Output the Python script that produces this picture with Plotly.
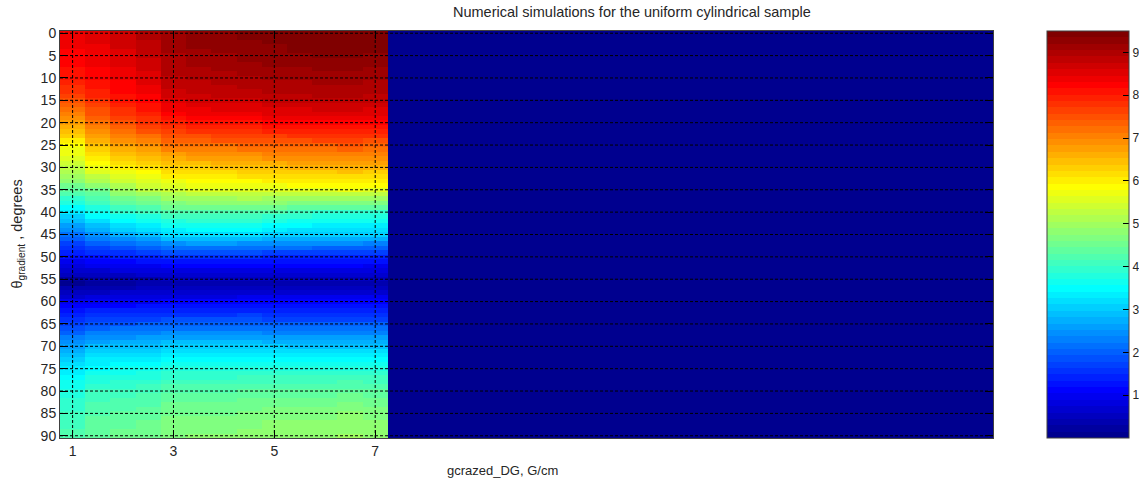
import plotly.graph_objects as go

# Gradient strengths along x (G/cm); columns are 0.5 G/cm wide
gradient_values = [1.0, 1.5, 2.0, 2.5, 3.0, 3.5, 4.0, 4.5, 5.0, 5.5, 6.0, 6.5, 7.0,
                   7.5, 8.0, 8.5, 9.0, 9.5, 10.0, 10.5, 11.0, 11.5, 12.0, 12.5, 13.0,
                   13.5, 14.0, 14.5, 15.0, 15.5, 16.0, 16.5, 17.0, 17.5, 18.0, 18.5, 19.0]

# Gradient angle rows, one per degree
theta_deg = list(range(0, 91))

x_ticks = [1, 3, 5, 7]
y_ticks = [0, 5, 10, 15, 20, 25, 30, 35, 40, 45, 50, 55, 60, 65, 70, 75, 80, 85, 90]
cbar_ticks = [1, 2, 3, 4, 5, 6, 7, 8, 9]

# Simulated signal for each simulated gradient (theta = 0..90 deg)
g_1_0 = [8.35, 8.34, 8.33, 8.32, 8.31, 8.3, 8.25, 8.2, 8.15, 8.1,
         8.05, 7.95, 7.85, 7.75, 7.65, 7.55, 7.4, 7.25, 7.1, 6.95,
         6.8, 6.62, 6.44, 6.26, 6.08, 5.9, 5.78, 5.66, 5.54, 5.42,
         5.3, 5.12, 4.94, 4.76, 4.58, 4.4, 4.18, 3.96, 3.74, 3.52,
         3.3, 3.07, 2.84, 2.61, 2.38, 2.15, 1.96, 1.77, 1.58, 1.39,
         1.2, 1.02, 0.84, 0.66, 0.48, 0.25, 0.12, 0.3, 0.5, 0.7,
         0.9, 1.07, 1.24, 1.41, 1.58, 1.75, 1.91, 2.07, 2.23, 2.39,
         2.55, 2.7, 2.85, 3.0, 3.15, 3.3, 3.4, 3.5, 3.6, 3.7,
         3.8, 3.85, 3.9, 3.95, 4.0, 4.05, 4.08, 4.11, 4.14, 4.17, 4.2]
g_1_5 = [8.55, 8.52, 8.49, 8.46, 8.43, 8.4, 8.36, 8.32, 8.28, 8.24,
         8.2, 8.12, 8.04, 7.96, 7.88, 7.8, 7.68, 7.56, 7.44, 7.32,
         7.2, 7.05, 6.9, 6.75, 6.6, 6.45, 6.31, 6.17, 6.03, 5.89,
         5.75, 5.52, 5.29, 5.06, 4.83, 4.6, 4.41, 4.22, 4.03, 3.84,
         3.65, 3.42, 3.19, 2.96, 2.73, 2.5, 2.26, 2.02, 1.78, 1.54,
         1.3, 1.11, 0.92, 0.73, 0.54, 0.35, 0.22, 0.38, 0.58, 0.8,
         1.0, 1.17, 1.34, 1.51, 1.68, 1.85, 2.05, 2.25, 2.45, 2.65,
         2.85, 2.99, 3.13, 3.27, 3.41, 3.55, 3.65, 3.75, 3.85, 3.95,
         4.05, 4.1, 4.15, 4.2, 4.25, 4.3, 4.33, 4.36, 4.39, 4.42, 4.45]
g_2_0 = [8.75, 8.71, 8.67, 8.63, 8.59, 8.55, 8.51, 8.47, 8.43, 8.39,
         8.35, 8.29, 8.23, 8.17, 8.11, 8.05, 7.94, 7.83, 7.72, 7.61,
         7.5, 7.35, 7.2, 7.05, 6.9, 6.75, 6.59, 6.43, 6.27, 6.11,
         5.95, 5.76, 5.57, 5.38, 5.19, 5.0, 4.78, 4.56, 4.34, 4.12,
         3.9, 3.67, 3.44, 3.21, 2.98, 2.75, 2.47, 2.19, 1.91, 1.63,
         1.35, 1.15, 0.95, 0.75, 0.55, 0.35, 0.25, 0.4, 0.6, 0.8,
         1.0, 1.18, 1.36, 1.54, 1.72, 1.9, 2.1, 2.3, 2.5, 2.7,
         2.9, 3.04, 3.18, 3.32, 3.46, 3.6, 3.7, 3.8, 3.9, 4.0,
         4.1, 4.15, 4.2, 4.25, 4.3, 4.35, 4.38, 4.41, 4.44, 4.47, 4.5]
g_2_5 = [8.95, 8.92, 8.89, 8.86, 8.83, 8.8, 8.75, 8.7, 8.65, 8.6,
         8.55, 8.49, 8.43, 8.37, 8.31, 8.25, 8.15, 8.05, 7.95, 7.85,
         7.75, 7.59, 7.43, 7.27, 7.11, 6.95, 6.78, 6.61, 6.44, 6.27,
         6.1, 5.92, 5.74, 5.56, 5.38, 5.2, 4.97, 4.74, 4.51, 4.28,
         4.05, 3.83, 3.61, 3.39, 3.17, 2.95, 2.64, 2.33, 2.02, 1.71,
         1.4, 1.2, 1.0, 0.8, 0.6, 0.4, 0.3, 0.45, 0.62, 0.8,
         1.0, 1.19, 1.38, 1.57, 1.76, 1.95, 2.15, 2.35, 2.55, 2.75,
         2.95, 3.09, 3.23, 3.37, 3.51, 3.65, 3.75, 3.85, 3.95, 4.05,
         4.15, 4.2, 4.25, 4.3, 4.35, 4.4, 4.43, 4.46, 4.49, 4.52, 4.55]
g_3_0 = [9.2, 9.17, 9.14, 9.11, 9.08, 9.05, 9.02, 8.99, 8.96, 8.93,
         8.9, 8.83, 8.76, 8.69, 8.62, 8.55, 8.44, 8.33, 8.22, 8.11,
         8.0, 7.83, 7.66, 7.49, 7.32, 7.15, 6.98, 6.81, 6.64, 6.47,
         6.3, 6.12, 5.94, 5.76, 5.58, 5.4, 5.17, 4.94, 4.71, 4.48,
         4.25, 4.04, 3.83, 3.62, 3.41, 3.2, 2.86, 2.52, 2.18, 1.84,
         1.5, 1.29, 1.08, 0.87, 0.66, 0.45, 0.38, 0.5, 0.68, 0.86,
         1.05, 1.24, 1.43, 1.62, 1.81, 2.0, 2.21, 2.42, 2.63, 2.84,
         3.05, 3.2, 3.35, 3.5, 3.65, 3.8, 3.9, 4.0, 4.1, 4.2,
         4.3, 4.36, 4.42, 4.48, 4.54, 4.6, 4.62, 4.64, 4.66, 4.68, 4.7]
g_3_5 = [9.3, 9.27, 9.24, 9.21, 9.18, 9.15, 9.11, 9.07, 9.03, 8.99,
         8.95, 8.89, 8.83, 8.77, 8.71, 8.65, 8.54, 8.43, 8.32, 8.21,
         8.1, 7.92, 7.74, 7.56, 7.38, 7.2, 7.03, 6.86, 6.69, 6.52,
         6.35, 6.18, 6.01, 5.84, 5.67, 5.5, 5.26, 5.02, 4.78, 4.54,
         4.3, 4.09, 3.88, 3.67, 3.46, 3.25, 2.9, 2.55, 2.2, 1.85,
         1.5, 1.29, 1.08, 0.87, 0.66, 0.45, 0.4, 0.52, 0.7, 0.88,
         1.05, 1.24, 1.43, 1.62, 1.81, 2.0, 2.21, 2.42, 2.63, 2.84,
         3.05, 3.2, 3.35, 3.5, 3.65, 3.8, 3.9, 4.0, 4.1, 4.2,
         4.3, 4.36, 4.42, 4.48, 4.54, 4.6, 4.63, 4.66, 4.69, 4.72, 4.75]
g_4_0 = [9.35, 9.32, 9.29, 9.26, 9.23, 9.2, 9.16, 9.12, 9.08, 9.04,
         9.0, 8.94, 8.88, 8.82, 8.76, 8.7, 8.59, 8.48, 8.37, 8.26,
         8.15, 7.97, 7.79, 7.61, 7.43, 7.25, 7.08, 6.91, 6.74, 6.57,
         6.4, 6.22, 6.04, 5.86, 5.68, 5.5, 5.26, 5.02, 4.78, 4.54,
         4.3, 4.09, 3.88, 3.67, 3.46, 3.25, 2.9, 2.55, 2.2, 1.85,
         1.5, 1.29, 1.08, 0.87, 0.66, 0.45, 0.4, 0.52, 0.7, 0.88,
         1.05, 1.24, 1.43, 1.62, 1.81, 2.0, 2.21, 2.42, 2.63, 2.84,
         3.05, 3.2, 3.35, 3.5, 3.65, 3.8, 3.9, 4.0, 4.1, 4.2,
         4.3, 4.36, 4.42, 4.48, 4.54, 4.6, 4.63, 4.66, 4.69, 4.72, 4.75]
g_4_5 = [9.4, 9.37, 9.34, 9.31, 9.28, 9.25, 9.21, 9.17, 9.13, 9.09,
         9.05, 8.98, 8.91, 8.84, 8.77, 8.7, 8.59, 8.48, 8.37, 8.26,
         8.15, 7.98, 7.81, 7.64, 7.47, 7.3, 7.13, 6.96, 6.79, 6.62,
         6.45, 6.27, 6.09, 5.91, 5.73, 5.55, 5.3, 5.05, 4.8, 4.55,
         4.3, 4.08, 3.86, 3.64, 3.42, 3.2, 2.86, 2.52, 2.18, 1.84,
         1.5, 1.29, 1.08, 0.87, 0.66, 0.45, 0.42, 0.55, 0.73, 0.92,
         1.1, 1.28, 1.46, 1.64, 1.82, 2.0, 2.21, 2.42, 2.63, 2.84,
         3.05, 3.2, 3.35, 3.5, 3.65, 3.8, 3.91, 4.02, 4.13, 4.24,
         4.35, 4.41, 4.47, 4.53, 4.59, 4.65, 4.68, 4.71, 4.74, 4.77, 4.8]
g_5_0 = [9.4, 9.38, 9.36, 9.34, 9.32, 9.3, 9.26, 9.22, 9.18, 9.14,
         9.1, 9.04, 8.98, 8.92, 8.86, 8.8, 8.69, 8.58, 8.47, 8.36,
         8.25, 8.07, 7.89, 7.71, 7.53, 7.35, 7.18, 7.01, 6.84, 6.67,
         6.5, 6.32, 6.14, 5.96, 5.78, 5.6, 5.32, 5.04, 4.76, 4.48,
         4.2, 3.98, 3.76, 3.54, 3.32, 3.1, 2.77, 2.44, 2.11, 1.78,
         1.45, 1.25, 1.05, 0.85, 0.65, 0.45, 0.42, 0.55, 0.73, 0.92,
         1.1, 1.27, 1.44, 1.61, 1.78, 1.95, 2.16, 2.37, 2.58, 2.79,
         3.0, 3.16, 3.32, 3.48, 3.64, 3.8, 3.91, 4.02, 4.13, 4.24,
         4.35, 4.42, 4.49, 4.56, 4.63, 4.7, 4.73, 4.76, 4.79, 4.82, 4.85]
g_5_5 = [9.45, 9.43, 9.41, 9.39, 9.37, 9.35, 9.3, 9.25, 9.2, 9.15,
         9.1, 9.04, 8.98, 8.92, 8.86, 8.8, 8.69, 8.58, 8.47, 8.36,
         8.25, 8.08, 7.91, 7.74, 7.57, 7.4, 7.23, 7.06, 6.89, 6.72,
         6.55, 6.36, 6.17, 5.98, 5.79, 5.6, 5.3, 5.0, 4.7, 4.4,
         4.1, 3.89, 3.68, 3.47, 3.26, 3.05, 2.73, 2.41, 2.09, 1.77,
         1.45, 1.25, 1.05, 0.85, 0.65, 0.45, 0.42, 0.55, 0.73, 0.92,
         1.1, 1.27, 1.44, 1.61, 1.78, 1.95, 2.15, 2.35, 2.55, 2.75,
         2.95, 3.12, 3.29, 3.46, 3.63, 3.8, 3.91, 4.02, 4.13, 4.24,
         4.35, 4.42, 4.49, 4.56, 4.63, 4.7, 4.73, 4.76, 4.79, 4.82, 4.85]
g_6_0 = [9.5, 9.48, 9.46, 9.44, 9.42, 9.4, 9.35, 9.3, 9.25, 9.2,
         9.15, 9.09, 9.03, 8.97, 8.91, 8.85, 8.74, 8.63, 8.52, 8.41,
         8.3, 8.12, 7.94, 7.76, 7.58, 7.4, 7.23, 7.06, 6.89, 6.72,
         6.55, 6.36, 6.17, 5.98, 5.79, 5.6, 5.28, 4.96, 4.64, 4.32,
         4.0, 3.8, 3.6, 3.4, 3.2, 3.0, 2.69, 2.38, 2.07, 1.76,
         1.45, 1.25, 1.05, 0.85, 0.65, 0.45, 0.42, 0.55, 0.73, 0.92,
         1.1, 1.27, 1.44, 1.61, 1.78, 1.95, 2.15, 2.35, 2.55, 2.75,
         2.95, 3.12, 3.29, 3.46, 3.63, 3.8, 3.91, 4.02, 4.13, 4.24,
         4.35, 4.42, 4.49, 4.56, 4.63, 4.7, 4.73, 4.76, 4.79, 4.82, 4.85]
g_6_5 = [9.5, 9.48, 9.46, 9.44, 9.42, 9.4, 9.35, 9.3, 9.25, 9.2,
         9.15, 9.09, 9.03, 8.97, 8.91, 8.85, 8.74, 8.63, 8.52, 8.41,
         8.3, 8.13, 7.96, 7.79, 7.62, 7.45, 7.28, 7.11, 6.94, 6.77,
         6.6, 6.41, 6.22, 6.03, 5.84, 5.65, 5.32, 4.99, 4.66, 4.33,
         4.0, 3.8, 3.6, 3.4, 3.2, 3.0, 2.69, 2.38, 2.07, 1.76,
         1.45, 1.25, 1.05, 0.85, 0.65, 0.45, 0.42, 0.55, 0.73, 0.92,
         1.1, 1.27, 1.44, 1.61, 1.78, 1.95, 2.15, 2.35, 2.55, 2.75,
         2.95, 3.12, 3.29, 3.46, 3.63, 3.8, 3.92, 4.04, 4.16, 4.28,
         4.4, 4.47, 4.54, 4.61, 4.68, 4.75, 4.78, 4.81, 4.84, 4.87, 4.9]
g_7_0 = [9.45, 9.43, 9.41, 9.39, 9.37, 9.35, 9.3, 9.25, 9.2, 9.15,
         9.1, 9.04, 8.98, 8.92, 8.86, 8.8, 8.69, 8.58, 8.47, 8.36,
         8.25, 8.08, 7.91, 7.74, 7.57, 7.4, 7.23, 7.06, 6.89, 6.72,
         6.55, 6.36, 6.17, 5.98, 5.79, 5.6, 5.28, 4.96, 4.64, 4.32,
         4.0, 3.8, 3.6, 3.4, 3.2, 3.0, 2.68, 2.36, 2.04, 1.72,
         1.4, 1.21, 1.02, 0.83, 0.64, 0.45, 0.42, 0.55, 0.73, 0.92,
         1.1, 1.27, 1.44, 1.61, 1.78, 1.95, 2.15, 2.35, 2.55, 2.75,
         2.95, 3.12, 3.29, 3.46, 3.63, 3.8, 3.91, 4.02, 4.13, 4.24,
         4.35, 4.42, 4.49, 4.56, 4.63, 4.7, 4.73, 4.76, 4.79, 4.82, 4.85]

simulated_columns = [g_1_0, g_1_5, g_2_0, g_2_5, g_3_0, g_3_5, g_4_0,
                     g_4_5, g_5_0, g_5_5, g_6_0, g_6_5, g_7_0]
# gradients above 7 G/cm were not simulated: the matrix holds zeros there
unsimulated_level = 0.0

z_min, z_max = 0.0, 9.5


def jet64():
    """MATLAB-style jet colormap with 64 discrete entries, as a Plotly colorscale."""
    def clip(v):
        return max(0.0, min(1.0, v))
    scale = []
    n = 64
    for k in range(n):
        t = (k + 1) / n
        r = clip(1.5 - abs(4 * t - 3))
        g = clip(1.5 - abs(4 * t - 2))
        b = clip(1.5 - abs(4 * t - 1))
        col = f"rgb({round(r * 255)},{round(g * 255)},{round(b * 255)})"
        scale.append([k / n, col])
        scale.append([(k + 1) / n, col])
    return scale


z = []
for i, _ in enumerate(theta_deg):
    row = []
    for j, _ in enumerate(gradient_values):
        if j < len(simulated_columns):
            row.append(simulated_columns[j][i])
        else:
            row.append(unsimulated_level)
    z.append(row)

FONT = "Arial, 'Liberation Sans', Helvetica, sans-serif"
TXT = "#262626"
FRAME = "#404040"

# plot area in pixels: x 60..993, y 31..438; colorbar 1047..1129
W, H = 1139, 486
L, R_EDGE, T, B = 60, 1129, 31, 438
paper_w = R_EDGE - L
x_dom_end = (993 - L) / paper_w
cbar_x = (1047 - L) / paper_w

fig = go.Figure()
fig.add_trace(go.Heatmap(
    x=gradient_values, y=theta_deg, z=z,
    zmin=z_min, zmax=z_max, colorscale=jet64(),
    xaxis="x", yaxis="y",
    colorbar=dict(
        x=cbar_x, xanchor="left", xref="paper", xpad=0,
        y=0.5, yanchor="middle", len=1, lenmode="fraction", ypad=0,
        thickness=R_EDGE - 1047, thicknessmode="pixels",
        outlinewidth=1, outlinecolor=FRAME,
        tickvals=cbar_ticks, ticks="inside", ticklen=6,
        tickcolor="black", tickwidth=1,
        tickfont=dict(family=FONT, size=12, color=TXT),
    ),
    hoverinfo="skip",
))

# empty trace that carries the left-hand tick marks of the colour bar
fig.add_trace(go.Scatter(x=[None], y=[None], xaxis="x", yaxis="y2",
                         showlegend=False, hoverinfo="skip"))

# dotted grid drawn over the image
grid = dict(color="black", width=1, dash="3px,2px")
shapes = []
for yv in y_ticks:
    shapes.append(dict(type="line", xref="x domain", yref="y", x0=0, x1=1,
                       y0=yv, y1=yv, line=grid, layer="above"))
for xv in x_ticks:
    shapes.append(dict(type="line", xref="x", yref="y domain", x0=xv, x1=xv,
                       y0=0, y1=1, line=grid, layer="above"))

fig.update_layout(
    width=W, height=H,
    margin=dict(l=L, r=W - R_EDGE, t=T, b=H - B, pad=0, autoexpand=False),
    paper_bgcolor="white", plot_bgcolor="white",
    showlegend=False,
    font=dict(family=FONT, size=14, color=TXT),
    xaxis=dict(
        domain=[0, x_dom_end],
        range=[gradient_values[0] - 0.25, gradient_values[-1] + 0.25],
        tickvals=x_ticks, ticks="inside", ticklen=8, tickcolor="black",
        showline=True, linecolor=FRAME, linewidth=1, mirror="ticks",
        showgrid=False, zeroline=False,
        tickfont=dict(family=FONT, size=14, color=TXT),
    ),
    yaxis=dict(
        domain=[0, 1],
        range=[theta_deg[-1] + 0.5, theta_deg[0] - 0.5],
        tickvals=y_ticks, ticks="inside", ticklen=8, tickcolor="black",
        showline=True, linecolor=FRAME, linewidth=1, mirror="ticks",
        showgrid=False, zeroline=False,
        tickfont=dict(family=FONT, size=14, color=TXT),
    ),
    yaxis2=dict(
        overlaying="y", anchor="free", position=cbar_x, side="left",
        range=[z_min, z_max], tickvals=cbar_ticks, ticks="inside", ticklen=6,
        tickcolor="black", showticklabels=False, showline=False,
        showgrid=False, zeroline=False,
    ),
    shapes=shapes,
    annotations=[
        dict(text="Numerical simulations for the uniform cylindrical sample",
             xref="paper", yref="paper", x=(632 - L) / paper_w,
             y=1 + (T - 12) / (B - T), xanchor="center", yanchor="middle",
             showarrow=False, font=dict(family=FONT, size=14.5, color=TXT)),
        dict(text="gcrazed_DG, G/cm",
             xref="paper", yref="paper", x=(502 - L) / paper_w,
             y=-(470 - B) / (B - T), xanchor="center", yanchor="middle",
             showarrow=False, font=dict(family=FONT, size=13, color=TXT)),
        dict(text="\u03b8<sub>gradient</sub> , degrees",
             xref="paper", yref="paper", x=(17 - L) / paper_w, y=0.5,
             xanchor="center", yanchor="middle", textangle=-90,
             showarrow=False, font=dict(family=FONT, size=14.5, color=TXT)),
    ],
)

fig.write_html("out.html")
